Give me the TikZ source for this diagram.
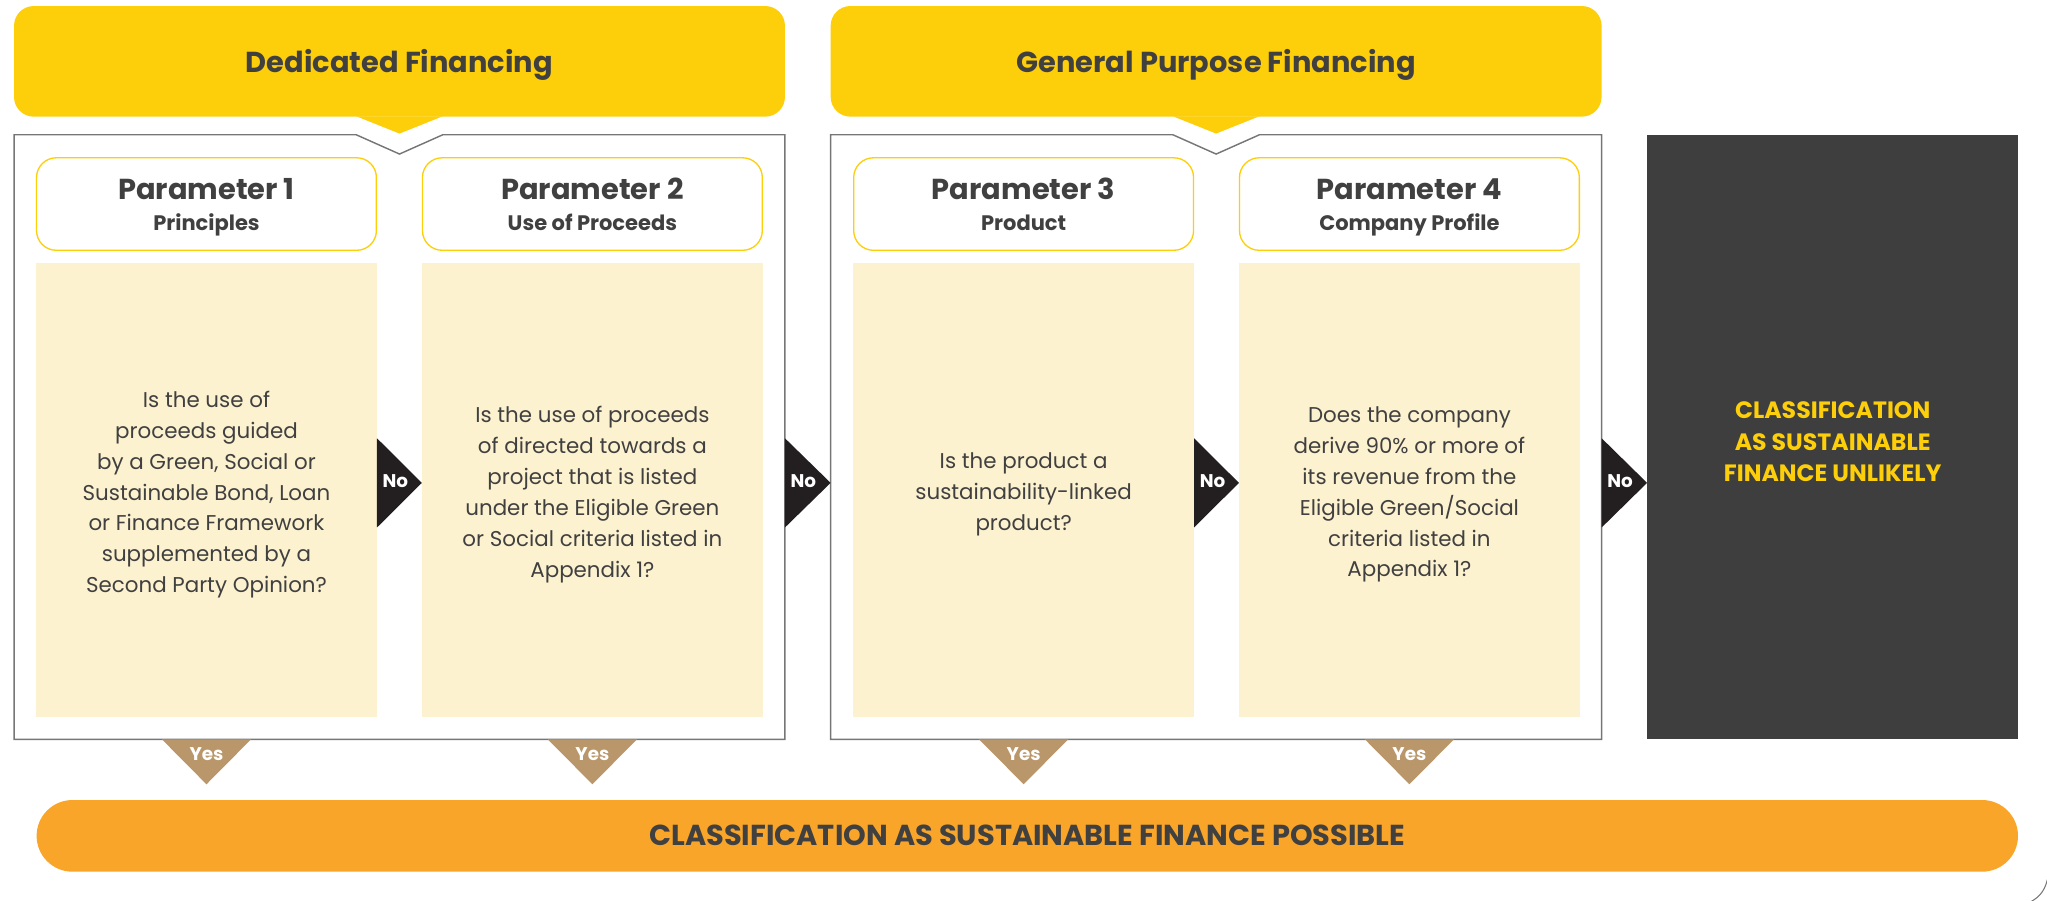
\documentclass[tikz,border=0pt]{standalone}
\usepackage{fontspec}
\setmainfont{Poppins}
\usetikzlibrary{calc}
\definecolor{hdr}{HTML}{FDCE0A}
\definecolor{lightb}{HTML}{FDF2D0}
\definecolor{orng}{HTML}{F8A52A}
\definecolor{tanc}{HTML}{BA976A}
\definecolor{blk}{HTML}{231F20}
\definecolor{darkb}{HTML}{3E3E3E}
\definecolor{txt}{HTML}{404040}
\definecolor{frm}{HTML}{767676}
\tikzset{
  hdrbox/.style={fill=hdr, rounded corners=15pt, minimum width=587.5pt, minimum height=84.3pt, inner sep=0pt,
    text=txt, font=\fontsize{22}{26}\selectfont\bfseries, text height=17.3pt, text depth=0pt},
  parbox/.style={draw=hdr, line width=1pt, fill=white, rounded corners=15pt, minimum width=259pt, minimum height=70.5pt,
    inner sep=0pt},
  partitle/.style={text=txt, inner sep=0pt, anchor=base, font=\fontsize{22}{26}\selectfont\bfseries},
  parsub/.style={text=txt, inner sep=0pt, anchor=base, font=\fontsize{16}{19}\selectfont\bfseries},
  bodybox/.style={fill=lightb, minimum width=259.5pt, minimum height=345.5pt, inner sep=0pt},
  bodytext/.style={align=center, inner sep=0pt, text=txt, font=\fontsize{16.3}{23.5}\selectfont},
  frame/.style={draw=frm, line width=1.1pt},
  notri/.style={fill=blk},
  yestri/.style={fill=tanc},
  nolab/.style={text=white, font=\fontsize{14}{16}\selectfont\bfseries, inner sep=0pt, anchor=base},
  yeslab/.style={text=white, font=\fontsize{14}{16}\selectfont\bfseries, inner sep=0pt, anchor=base},
  darkbox/.style={fill=darkb, minimum width=282.5pt, minimum height=460.5pt, inner sep=0pt},
  darktext/.style={align=center, inner sep=0pt, text=hdr, font=\fontsize{18}{24.1}\selectfont\bfseries},
  possbar/.style={fill=orng, rounded corners=27.3pt, minimum width=1510pt, minimum height=54.6pt, inner sep=0pt,
    text=txt, font=\fontsize{22}{26}\selectfont\bfseries, text height=15.4pt, text depth=0pt}
}
\begin{document}
\begin{tikzpicture}[x=1pt,y=-1pt]
\useasboundingbox (0,0) rectangle (1560,686.6);

% headers
\node[hdrbox] (h1) at (304.45,46.75) {Dedicated Financing};
\node[hdrbox] (h2) at (926.8,46.75) {General Purpose Financing};
\fill[hdr] ($(h1.south)+(-33,-0.5)$) -- ($(h1.south)+(0,12.7)$) -- ($(h1.south)+(33,-0.5)$) -- cycle;
\fill[hdr] ($(h2.south)+(-33,-0.5)$) -- ($(h2.south)+(0,12.7)$) -- ($(h2.south)+(33,-0.5)$) -- cycle;

% frames
\coordinate (f1nw) at (10.7,102.7);
\coordinate (f1se) at (598.2,563.4);
\coordinate (f2nw) at (633,102.7);
\coordinate (f2se) at (1220.6,563.4);
\draw[frame] (f1nw) -- ($(h1.south |- f1nw)+(-33,0)$) -- ($(h1.south |- f1nw)+(0,14.7)$) -- ($(h1.south |- f1nw)+(33,0)$)
   -- (f1se |- f1nw) -- (f1se) -- (f1nw |- f1se) -- cycle;
\draw[frame] (f2nw) -- ($(h2.south |- f2nw)+(-33,0)$) -- ($(h2.south |- f2nw)+(0,14.7)$) -- ($(h2.south |- f2nw)+(33,0)$)
   -- (f2se |- f2nw) -- (f2se) -- (f2nw |- f2se) -- cycle;

% parameter headers
\node[parbox] (p1) at (157.35,155.5) {};
\node[parbox] (p2) at (451.45,155.5) {};
\node[parbox] (p3) at (780.1,155.5) {};
\node[parbox] (p4) at (1074.1,155.5) {};
\node[partitle] (p1t) at ($(p1.center)+(0,-3.1)$) {Parameter 1};
\node[parsub]   (p1s) at ($(p1.center)+(0,19.8)$) {Principles};
\node[partitle] (p2t) at ($(p2.center)+(0,-3.1)$) {Parameter 2};
\node[parsub]   (p2s) at ($(p2.center)+(0,19.8)$) {Use of Proceeds};
\node[partitle] (p3t) at ($(p3.center)+(0,-3.1)$) {Parameter 3};
\node[parsub]   (p3s) at ($(p3.center)+(0,19.8)$) {Product};
\node[partitle] (p4t) at ($(p4.center)+(0,-3.1)$) {Parameter 4};
\node[parsub]   (p4s) at ($(p4.center)+(0,19.8)$) {Company Profile};

% body boxes
\node[bodybox] (b1) at (157.35,373.45) {};
\node[bodybox] (b2) at (451.45,373.45) {};
\node[bodybox] (b3) at (780.1,373.45) {};
\node[bodybox] (b4) at (1074.1,373.45) {};
\node[bodytext] (t1) at ($(b1.center)+(0,3.5)$) {Is the use of\\proceeds guided\\by a Green, Social or\\Sustainable Bond, Loan\\or Finance Framework\\supplemented by a\\Second Party Opinion?};
\node[bodytext] (t2) at ($(b2.center)+(0,3.5)$) {Is the use of proceeds\\of directed towards a\\project that is listed\\under the Eligible Green\\or Social criteria listed in\\Appendix 1?};
\node[bodytext] (t3) at ($(b3.center)+(0,3.5)$) {Is the product a\\sustainability-linked\\product?};
\node[bodytext] (t4) at ($(b4.center)+(0,3.5)$) {Does the company\\derive 90\% or more of\\its revenue from the\\Eligible Green/Social\\criteria listed in\\Appendix 1?};

% dark result box
\node[darkbox] (cls) at (1396.65,333.15) {};
\node[darktext] (clst) at (1396.65,336.6) {CLASSIFICATION\\AS SUSTAINABLE\\FINANCE UNLIKELY};

% No triangles
\coordinate (ny) at (0,368);
\coordinate (f1e) at (f1se |- ny);
\coordinate (f2w) at (f2nw |- ny);
\coordinate (f2e) at (f2se |- ny);
\fill[notri] ($(b1.east |- ny)+(0,-34)$) -- ($(b1.east |- ny)+(0,34)$) -- (b2.west |- ny) -- cycle;
\node[nolab] (n1) at ($(b1.east |- ny)+(14,3.7)$) {No};
\fill[notri] ($(f1e)+(0,-34)$) -- ($(f1e)+(0,34)$) -- (f2w) -- cycle;
\node[nolab] (n2) at ($(f1e)+(14,3.7)$) {No};
\fill[notri] ($(b3.east |- ny)+(0,-34)$) -- ($(b3.east |- ny)+(0,34)$) -- (b4.west |- ny) -- cycle;
\node[nolab] (n3) at ($(b3.east |- ny)+(14,3.7)$) {No};
\fill[notri] ($(f2e)+(0,-34)$) -- ($(f2e)+(0,34)$) -- (cls.west |- ny) -- cycle;
\node[nolab] (n4) at ($(f2e)+(14,3.7)$) {No};

% Yes triangles
\foreach \b/\n in {b1/y1,b2/y2,b3/y3,b4/y4}{
  \fill[yestri] ($(\b.south |- f1se)+(-34,0)$) -- ($(\b.south |- f1se)+(34,0)$) -- ($(\b.south |- f1se)+(0,34.3)$) -- cycle;
  \node[yeslab] (\n) at ($(\b.south |- f1se)+(0,15.8)$) {Yes};
}

% bottom bar
\node[possbar] (poss) at (782.9,637) {CLASSIFICATION AS SUSTAINABLE FINANCE POSSIBLE};

% partial corner of outer frame
\draw[draw=frm, line width=0.8pt] (1548,687) .. controls (1555,683) and (1559,678) .. (1561,667);
\end{tikzpicture}
\end{document}
